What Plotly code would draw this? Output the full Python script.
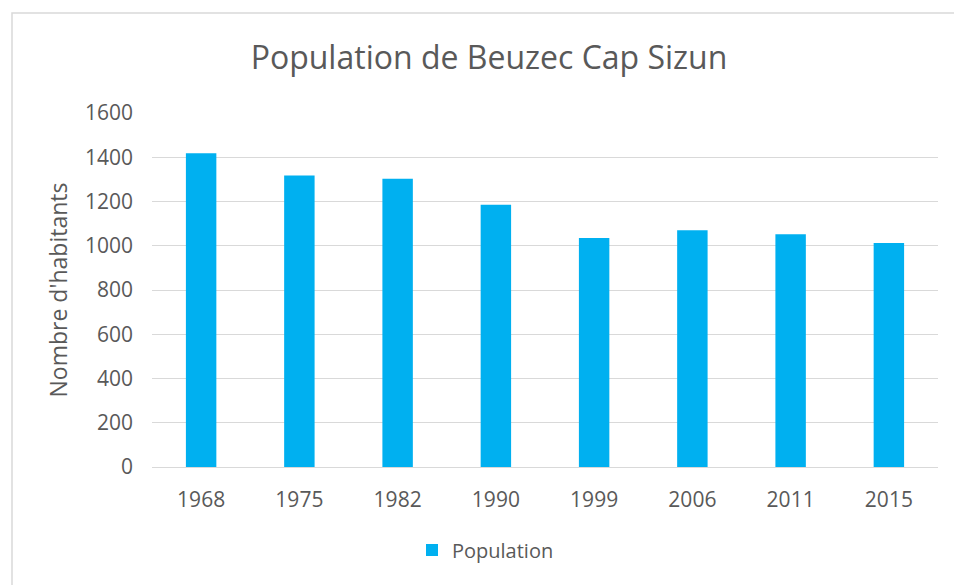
import plotly.graph_objects as go

years = ["1968", "1975", "1982", "1990", "1999", "2006", "2011", "2015"]
population = [1418, 1317, 1303, 1185, 1035, 1070, 1052, 1012]
y_ticks = [0, 200, 400, 600, 800, 1000, 1200, 1400, 1600]

W, H = 954, 585
L, R, T, B = 152, 16, 113, 118
pw, ph = W - L - R, H - T - B

def px_x(x):
    return (x - L) / pw

def px_y(y):
    return (H - B - y) / ph

FONT = "Open Sans"
GREY = "#595959"

fig = go.Figure()
fig.add_trace(go.Bar(x=years, y=population, name="Population",
                     marker=dict(color="#00B0F0", line=dict(width=0))))

fig.update_layout(
    width=W, height=H,
    margin=dict(l=L, r=R, t=T, b=B),
    paper_bgcolor="white", plot_bgcolor="white",
    font=dict(family=FONT, color=GREY, size=16),
    title=dict(text="Population de Beuzec Cap Sizun", x=(250 + 728) / 2 / W,
               xref="container", xanchor="center", y=1 - 58 / H,
               yanchor="middle",
               font=dict(size=32, color=GREY, family=FONT)),
    bargap=0.69,
    showlegend=True,
    legend=dict(orientation="h", x=px_x(412), xanchor="left", y=px_y(550),
                yanchor="middle", font=dict(size=20, color=GREY),
                itemwidth=30),
    xaxis=dict(type="category", showgrid=False, showline=False,
               ticks="", ticklabelstandoff=18,
               tickfont=dict(size=21, color=GREY)),
    yaxis=dict(range=[0, 1600], tickvals=y_ticks, showgrid=True,
               gridcolor="#d9d9d9", gridwidth=1, zeroline=True,
               zerolinecolor="#d9d9d9", zerolinewidth=1, showline=False,
               ticks="", ticklabelstandoff=18,
               tickfont=dict(size=21, color=GREY),
               title=dict(text="Nombre d'habitants", standoff=10,
                          font=dict(size=23, color=GREY))),
    shapes=[dict(type="rect", xref="paper", yref="paper",
                 x0=px_x(12), x1=px_x(W + 10), y0=px_y(H + 10), y1=px_y(13),
                 line=dict(color="#d9d9d9", width=1.5), fillcolor="rgba(0,0,0,0)",
                 layer="below")],
)

fig.write_html("out.html", config={"displayModeBar": False},
               post_script="document.body.style.margin='0';document.body.style.overflow='hidden';")
